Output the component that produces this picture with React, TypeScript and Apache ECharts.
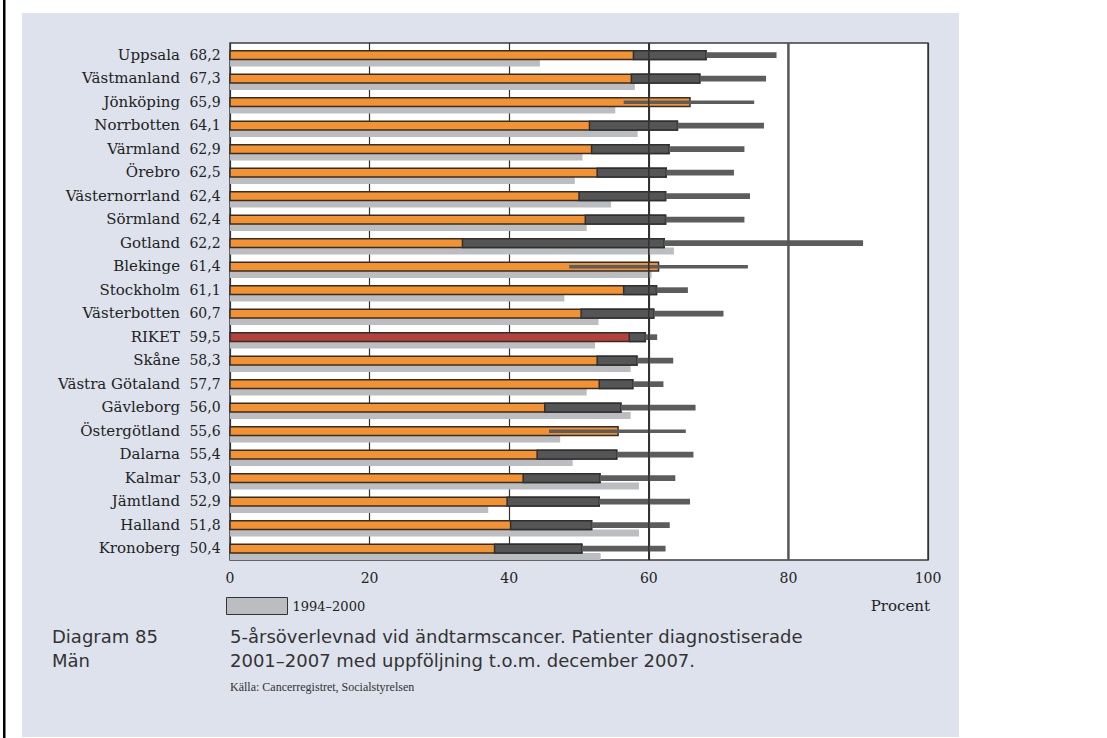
import React, { useEffect, useRef } from "react";
import * as echarts from "echarts";

const categories = [
  "Uppsala", "Västmanland", "Jönköping", "Norrbotten", "Värmland", "Örebro",
  "Västernorrland", "Sörmland", "Gotland", "Blekinge", "Stockholm", "Västerbotten",
  "RIKET", "Skåne", "Västra Götaland", "Gävleborg", "Östergötland", "Dalarna",
  "Kalmar", "Jämtland", "Halland", "Kronoberg",
];
const survival0107 = [
  68.2, 67.3, 65.9, 64.1, 62.9, 62.5, 62.4, 62.4, 62.2, 61.4, 61.1, 60.7,
  59.5, 58.3, 57.7, 56.0, 55.6, 55.4, 53.0, 52.9, 51.8, 50.4,
];
const ciLow = [
  57.8, 57.5, 56.4, 51.5, 51.8, 52.6, 50.0, 50.9, 33.3, 48.6, 56.4, 50.3,
  57.2, 52.6, 52.9, 45.1, 45.7, 44.0, 42.0, 39.7, 40.2, 37.9,
];
const ciHigh = [
  78.3, 76.8, 75.1, 76.5, 73.7, 72.2, 74.5, 73.7, 90.7, 74.2, 65.6, 70.7,
  61.2, 63.5, 62.1, 66.7, 65.3, 66.4, 63.8, 65.9, 63.0, 62.4,
];
const survival9400 = [
  44.4, 58.0, 55.2, 58.4, 50.5, 49.4, 54.6, 51.1, 63.6, 60.4, 47.9, 52.8,
  52.3, 57.4, 51.1, 57.4, 47.3, 49.1, 58.6, 37.0, 58.6, 53.1,
];
const overlayLines = [60, 80];
const legendName = "1994–2000";
const xName = "Procent";
const captionLeft = ["Diagram 85", "Män"];
const captionRight = [
  "5-årsöverlevnad vid ändtarmscancer. Patienter diagnostiserade",
  "2001–2007 med uppföljning t.o.m. december 2007.",
];
const source = "Källa: Cancerregistret, Socialstyrelsen";

// style constants (not data)
const thinCi = new Set(["Jönköping", "Blekinge", "Östergötland"]);
const SERIF = "'DejaVu Serif', serif";
const LSERIF = "'Liberation Serif', serif";
const SANS = "'DejaVu Sans', sans-serif";
const ORANGE = "#f5922f";
const RED = "#b8403a";
const OLDGRAY = "#bcbdc1";
const CIGRAY = "#5c5c5c";
const BORDER = "#2f2f2f";

const fmt = (v: number) => v.toFixed(1).replace(".", ",");

export default function App() {
  const ref = useRef<HTMLDivElement>(null);
  useEffect(() => {
    if (!ref.current) return;
    const chart = echarts.init(ref.current, undefined, { renderer: "svg" });

    const bandGeom = (api: any, idx: number) => {
      const yc = api.coord([0, idx])[1];
      const band = api.size([0, 1])[1];
      const top = yc - band / 2;
      return { top, band };
    };

    const option: any = {
      animation: false,
      graphic: [
        { type: "rect", z: -10, shape: { x: 22, y: 13, width: 937, height: 724 }, style: { fill: "#dee2ec" } },
        { type: "rect", z: -10, shape: { x: 3, y: 0, width: 2.5, height: 738 }, style: { fill: "#000" } },
        { type: "text", x: 930, y: 606, style: { text: xName, font: `15px ${SERIF}`, fill: "#222", align: "right", verticalAlign: "middle" } },
        { type: "text", x: 52, y: 636, style: { text: captionLeft[0], font: `18px ${SANS}`, fill: "#333", verticalAlign: "middle" } },
        { type: "text", x: 52, y: 660, style: { text: captionLeft[1], font: `18px ${SANS}`, fill: "#333", verticalAlign: "middle" } },
        { type: "text", x: 230, y: 636, style: { text: captionRight[0], font: `18px ${SANS}`, fill: "#333", verticalAlign: "middle" } },
        { type: "text", x: 230, y: 660, style: { text: captionRight[1], font: `18px ${SANS}`, fill: "#333", verticalAlign: "middle" } },
        { type: "text", x: 230, y: 687, style: { text: source, font: `12px ${LSERIF}`, fill: "#333", verticalAlign: "middle" } },
      ],
      legend: {
        left: 226,
        top: 597,
        padding: 0,
        itemWidth: 61,
        itemHeight: 17,
        itemGap: 10,
        textStyle: { fontFamily: SERIF, fontSize: 13, color: "#222" },
        data: [{ name: legendName, icon: "rect", itemStyle: { color: OLDGRAY, borderColor: "#333", borderWidth: 1 } }],
        selectedMode: false,
      },
      grid: {
        left: 230,
        right: 179,
        top: 43,
        bottom: 178,
        show: true,
        backgroundColor: "#fff",
        borderColor: "#3d3d3d",
        borderWidth: 1.5,
      },
      xAxis: {
        type: "value",
        min: 0,
        max: 100,
        interval: 20,
        axisLine: { show: false },
        axisTick: { show: false },
        axisLabel: { margin: 11, fontFamily: SERIF, fontSize: 14, color: "#222" },
        splitLine: { show: true, lineStyle: { color: "#333", width: 1.2 } },
      },
      yAxis: {
        type: "category",
        data: categories,
        inverse: true,
        axisLine: { show: false },
        axisTick: { show: false },
        splitLine: { show: false },
        axisLabel: {
          margin: 10,
          formatter: (value: string, index: number) => `{n|${value}}{v|${fmt(survival0107[index])}}`,
          rich: {
            n: { fontFamily: SERIF, fontSize: 15, color: "#222", padding: [0, 10, 0, 0] },
            v: { fontFamily: SERIF, fontSize: 14, color: "#222", width: 30, align: "left" },
          },
        },
      },
      series: [
        {
          name: legendName,
          type: "custom",
          z: 2,
          itemStyle: { color: OLDGRAY },
          encode: { x: 1, y: 0 },
          data: survival9400.map((v, i) => [i, v]),
          renderItem: (params: any, api: any) => {
            const idx = api.value(0);
            const { top, band } = bandGeom(api, idx);
            const x0 = api.coord([0, idx])[0];
            const x1 = api.coord([api.value(1), idx])[0];
            return {
              type: "rect",
              shape: { x: x0, y: top + band * 0.705, width: x1 - x0, height: band * 0.295 },
              style: { fill: OLDGRAY },
            };
          },
        },
        {
          name: "2001–2007",
          type: "custom",
          z: 3,
          itemStyle: { color: ORANGE },
          encode: { x: 1, y: 0 },
          data: survival0107.map((v, i) => [i, v]),
          renderItem: (params: any, api: any) => {
            const idx = api.value(0);
            const { top, band } = bandGeom(api, idx);
            const x0 = api.coord([0, idx])[0];
            const x1 = api.coord([api.value(1), idx])[0];
            return {
              type: "rect",
              shape: { x: x0, y: top + band * 0.33, width: x1 - x0, height: band * 0.375 },
              style: { fill: categories[idx] === "RIKET" ? RED : ORANGE, stroke: BORDER, lineWidth: 1.5 },
            };
          },
        },
        {
          name: "KI",
          type: "custom",
          z: 4,
          itemStyle: { color: CIGRAY },
          encode: { x: [1, 2], y: 0 },
          data: ciLow.map((lo, i) => [i, lo, ciHigh[i], survival0107[i]]),
          renderItem: (params: any, api: any) => {
            const idx = api.value(0);
            const { top, band } = bandGeom(api, idx);
            const xl = api.coord([api.value(1), idx])[0];
            const xh = api.coord([api.value(2), idx])[0];
            const xv = api.coord([api.value(3), idx])[0];
            const barTop = top + band * 0.33;
            const barH = band * 0.375;
            const cy = barTop + barH / 2;
            const thin = thinCi.has(categories[idx]);
            const outerH = thin ? 3.5 : 5.7;
            const children: any[] = [];
            if (thin) {
              children.push({
                type: "rect",
                shape: { x: xl, y: cy - outerH / 2, width: xh - xl, height: outerH },
                style: { fill: CIGRAY },
              });
            } else {
              children.push({
                type: "rect",
                shape: { x: xl, y: barTop, width: xv - xl, height: barH },
                style: { fill: "#555", stroke: BORDER, lineWidth: 1.5 },
              });
              children.push({
                type: "rect",
                shape: { x: xv, y: cy - outerH / 2, width: xh - xv, height: outerH },
                style: { fill: CIGRAY },
              });
            }
            return { type: "group", children };
          },
        },
        {
          name: "grid-overlay",
          type: "custom",
          z: 5,
          silent: true,
          encode: { x: 0 },
          data: overlayLines.map((v) => [v]),
          renderItem: (params: any, api: any) => {
            const cs = params.coordSys;
            const v = api.value(0);
            const x = api.coord([v, 0])[0];
            const heavy = v === 80;
            return {
              type: "line",
              shape: { x1: x, y1: cs.y, x2: x, y2: cs.y + cs.height },
              style: { stroke: heavy ? "#555" : "#333", lineWidth: heavy ? 2.4 : 1.6 },
            };
          },
        },
      ],
    };
    chart.setOption(option);
    return () => chart.dispose();
  }, []);

  return (
    <div
      ref={ref}
      style={{ position: "fixed", left: 0, top: 0, width: 1107, height: 738, background: "#fff" }}
    />
  );
}
